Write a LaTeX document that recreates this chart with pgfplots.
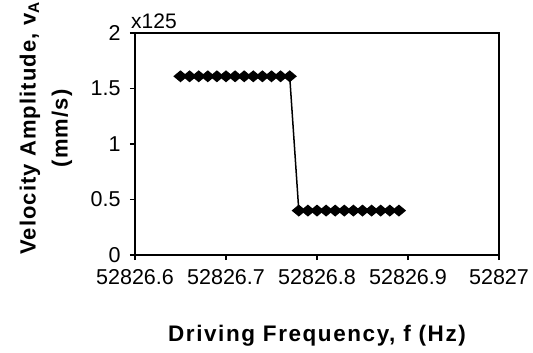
\documentclass[border=0pt]{standalone}
\usepackage{fontspec}
\setmainfont{Liberation Sans}
\newfontfamily\labfont[LetterSpace=7]{Liberation Sans}
\newfontfamily\ylabfont[LetterSpace=5]{Liberation Sans}
\usepackage{pgfplots}
\pgfplotsset{compat=1.18}
\begin{document}
\begin{tikzpicture}
\useasboundingbox (-135bp,-98bp) rectangle (398bp,255bp);
% x values are offsets from 52826 Hz
\begin{axis}[
  at={(0,0)}, anchor=south west,
  scale only axis,
  width=364bp, height=222bp,
  xmin=0.6, xmax=1.0, ymin=0, ymax=2,
  axis lines=box,
  xtick={0.6,0.7,0.8,0.9,1.0},
  xticklabels={52826.6,52826.7,52826.8,52826.9,52827},
  ytick={0,0.5,1,1.5,2},
  yticklabels={0,0.5,1,1.5,2},
  tick align=outside,
  major tick length=5bp,
  xtick pos=bottom, ytick pos=left,
  tick style={line width=1.2bp, black},
  axis line style={line width=2.4bp},
  ticklabel style={font=\fontsize{21.5bp}{24bp}\selectfont},
  xticklabel style={yshift=-6bp},
  yticklabel style={xshift=-6bp},
  xlabel={\labfont\bfseries Driving Frequency, f (Hz)},
  xlabel style={font=\fontsize{22.5bp}{26bp}\selectfont, at={(axis description cs:0.5,-0.365)}, anchor=center},
  ylabel={\ylabfont\bfseries Velocity Amplitude, v\textsubscript{A}\\[6bp]\ylabfont\bfseries (mm/s)},
  ylabel style={font=\fontsize{22bp}{26bp}\selectfont, align=center, at={(axis description cs:-0.2445,0.57)}, anchor=center},
  clip=false,
  after end axis/.code={\draw[line width=2.4bp] (rel axis cs:0,0) rectangle (rel axis cs:1,1);},
]
\addplot[black, line width=1.5bp, mark=diamond*, mark size=5bp, mark options={xscale=1.6, fill=black}] coordinates {
(0.65,1.61) (0.66,1.61) (0.67,1.61) (0.68,1.61) (0.69,1.61) (0.70,1.61) (0.71,1.61)
(0.72,1.61) (0.73,1.61) (0.74,1.61) (0.75,1.61) (0.76,1.61) (0.77,1.61)
(0.78,0.40) (0.79,0.40) (0.80,0.40) (0.81,0.40) (0.82,0.40) (0.83,0.40) (0.84,0.40)
(0.85,0.40) (0.86,0.40) (0.87,0.40) (0.88,0.40) (0.89,0.40)
};
\node[anchor=base west, inner sep=0pt, font=\fontsize{21bp}{24bp}\selectfont] at (axis description cs:-0.011,1.0225) {x125};
\end{axis}
\end{tikzpicture}
\end{document}
